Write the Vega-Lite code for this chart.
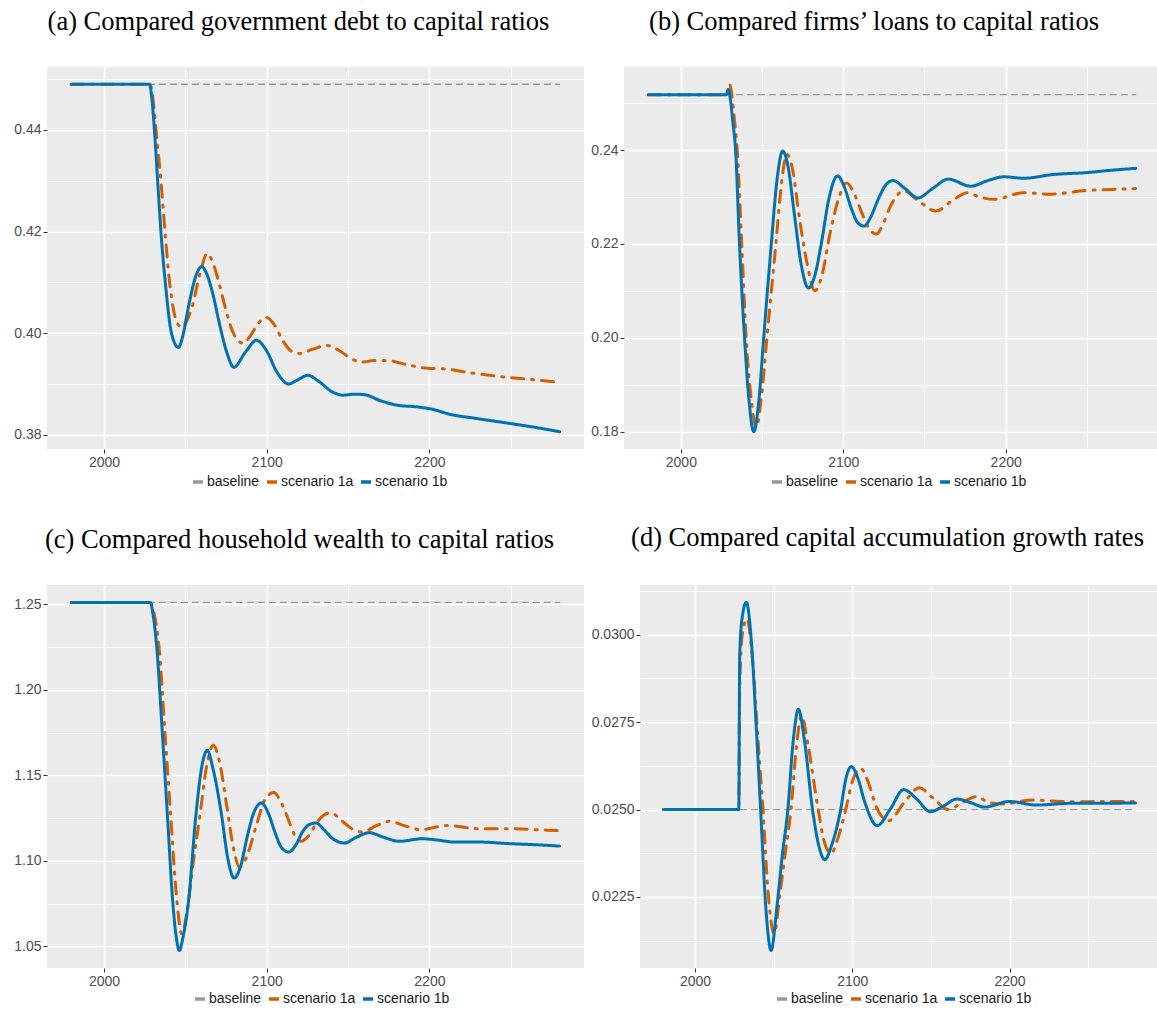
{
  "$schema": "https://vega.github.io/schema/vega-lite/v6.json",
  "background": "white",
  "padding": {"left": 13, "top": 8, "right": 0, "bottom": 0},
  "data": {"values": [
    {"panel":"a","series":"baseline","year":1980,"value":0.449},
    {"panel":"a","series":"baseline","year":2280,"value":0.449},
    {"panel":"a","series":"scenario 1a","year":1980,"value":0.449},
    {"panel":"a","series":"scenario 1a","year":2028,"value":0.449},
    {"panel":"a","series":"scenario 1a","year":2030,"value":0.4465},
    {"panel":"a","series":"scenario 1a","year":2032,"value":0.440},
    {"panel":"a","series":"scenario 1a","year":2035,"value":0.430},
    {"panel":"a","series":"scenario 1a","year":2037.5,"value":0.420},
    {"panel":"a","series":"scenario 1a","year":2040,"value":0.411},
    {"panel":"a","series":"scenario 1a","year":2042.5,"value":0.405},
    {"panel":"a","series":"scenario 1a","year":2045,"value":0.402},
    {"panel":"a","series":"scenario 1a","year":2047.8,"value":0.4012},
    {"panel":"a","series":"scenario 1a","year":2051,"value":0.4025},
    {"panel":"a","series":"scenario 1a","year":2054,"value":0.405},
    {"panel":"a","series":"scenario 1a","year":2059,"value":0.4117},
    {"panel":"a","series":"scenario 1a","year":2063.5,"value":0.4157},
    {"panel":"a","series":"scenario 1a","year":2067,"value":0.4138},
    {"panel":"a","series":"scenario 1a","year":2071,"value":0.4095},
    {"panel":"a","series":"scenario 1a","year":2075,"value":0.4045},
    {"panel":"a","series":"scenario 1a","year":2079.5,"value":0.4000},
    {"panel":"a","series":"scenario 1a","year":2085.6,"value":0.398},
    {"panel":"a","series":"scenario 1a","year":2090,"value":0.3995},
    {"panel":"a","series":"scenario 1a","year":2095,"value":0.402},
    {"panel":"a","series":"scenario 1a","year":2099.9,"value":0.4031},
    {"panel":"a","series":"scenario 1a","year":2105,"value":0.4015},
    {"panel":"a","series":"scenario 1a","year":2110,"value":0.3985},
    {"panel":"a","series":"scenario 1a","year":2115,"value":0.3965},
    {"panel":"a","series":"scenario 1a","year":2120,"value":0.396},
    {"panel":"a","series":"scenario 1a","year":2128,"value":0.3968},
    {"panel":"a","series":"scenario 1a","year":2136.6,"value":0.3976},
    {"panel":"a","series":"scenario 1a","year":2145,"value":0.3965},
    {"panel":"a","series":"scenario 1a","year":2152,"value":0.395},
    {"panel":"a","series":"scenario 1a","year":2158,"value":0.3943},
    {"panel":"a","series":"scenario 1a","year":2166,"value":0.3946},
    {"panel":"a","series":"scenario 1a","year":2174.3,"value":0.3946},
    {"panel":"a","series":"scenario 1a","year":2186,"value":0.3938},
    {"panel":"a","series":"scenario 1a","year":2198.8,"value":0.3931},
    {"panel":"a","series":"scenario 1a","year":2208,"value":0.393},
    {"panel":"a","series":"scenario 1a","year":2227.4,"value":0.3921},
    {"panel":"a","series":"scenario 1a","year":2247.8,"value":0.3913},
    {"panel":"a","series":"scenario 1a","year":2262,"value":0.3909},
    {"panel":"a","series":"scenario 1a","year":2280,"value":0.3903},
    {"panel":"a","series":"scenario 1b","year":1980,"value":0.449},
    {"panel":"a","series":"scenario 1b","year":2028,"value":0.449},
    {"panel":"a","series":"scenario 1b","year":2029.5,"value":0.446},
    {"panel":"a","series":"scenario 1b","year":2031,"value":0.440},
    {"panel":"a","series":"scenario 1b","year":2033,"value":0.430},
    {"panel":"a","series":"scenario 1b","year":2035,"value":0.420},
    {"panel":"a","series":"scenario 1b","year":2038,"value":0.409},
    {"panel":"a","series":"scenario 1b","year":2041.5,"value":0.400},
    {"panel":"a","series":"scenario 1b","year":2045.7,"value":0.3972},
    {"panel":"a","series":"scenario 1b","year":2048.5,"value":0.3995},
    {"panel":"a","series":"scenario 1b","year":2051.8,"value":0.405},
    {"panel":"a","series":"scenario 1b","year":2057,"value":0.4117},
    {"panel":"a","series":"scenario 1b","year":2060,"value":0.4131},
    {"panel":"a","series":"scenario 1b","year":2063.5,"value":0.4114},
    {"panel":"a","series":"scenario 1b","year":2067,"value":0.4076},
    {"panel":"a","series":"scenario 1b","year":2071,"value":0.4018},
    {"panel":"a","series":"scenario 1b","year":2075.5,"value":0.3962},
    {"panel":"a","series":"scenario 1b","year":2079.8,"value":0.3933},
    {"panel":"a","series":"scenario 1b","year":2087,"value":0.3963},
    {"panel":"a","series":"scenario 1b","year":2093.7,"value":0.3986},
    {"panel":"a","series":"scenario 1b","year":2100,"value":0.3965},
    {"panel":"a","series":"scenario 1b","year":2106,"value":0.3925},
    {"panel":"a","series":"scenario 1b","year":2113.5,"value":0.390},
    {"panel":"a","series":"scenario 1b","year":2119,"value":0.3908},
    {"panel":"a","series":"scenario 1b","year":2125.3,"value":0.3917},
    {"panel":"a","series":"scenario 1b","year":2132,"value":0.3905},
    {"panel":"a","series":"scenario 1b","year":2140,"value":0.3885},
    {"panel":"a","series":"scenario 1b","year":2147,"value":0.3878},
    {"panel":"a","series":"scenario 1b","year":2154,"value":0.388},
    {"panel":"a","series":"scenario 1b","year":2160,"value":0.3879},
    {"panel":"a","series":"scenario 1b","year":2170,"value":0.3867},
    {"panel":"a","series":"scenario 1b","year":2180.5,"value":0.3858},
    {"panel":"a","series":"scenario 1b","year":2192,"value":0.3855},
    {"panel":"a","series":"scenario 1b","year":2202,"value":0.385},
    {"panel":"a","series":"scenario 1b","year":2213,"value":0.384},
    {"panel":"a","series":"scenario 1b","year":2227,"value":0.3833},
    {"panel":"a","series":"scenario 1b","year":2250,"value":0.3822},
    {"panel":"a","series":"scenario 1b","year":2266,"value":0.3814},
    {"panel":"a","series":"scenario 1b","year":2280,"value":0.3806},

    {"panel":"b","series":"baseline","year":1980,"value":0.2518},
    {"panel":"b","series":"baseline","year":2280,"value":0.2518},
    {"panel":"b","series":"scenario 1a","year":1980,"value":0.2518},
    {"panel":"b","series":"scenario 1a","year":2028,"value":0.2518},
    {"panel":"b","series":"scenario 1a","year":2030,"value":0.254},
    {"panel":"b","series":"scenario 1a","year":2031.5,"value":0.2515},
    {"panel":"b","series":"scenario 1a","year":2033,"value":0.2465},
    {"panel":"b","series":"scenario 1a","year":2034.7,"value":0.240},
    {"panel":"b","series":"scenario 1a","year":2037.5,"value":0.220},
    {"panel":"b","series":"scenario 1a","year":2040.2,"value":0.200},
    {"panel":"b","series":"scenario 1a","year":2043,"value":0.188},
    {"panel":"b","series":"scenario 1a","year":2046.5,"value":0.1809},
    {"panel":"b","series":"scenario 1a","year":2049.5,"value":0.187},
    {"panel":"b","series":"scenario 1a","year":2053,"value":0.200},
    {"panel":"b","series":"scenario 1a","year":2058.5,"value":0.220},
    {"panel":"b","series":"scenario 1a","year":2062,"value":0.233},
    {"panel":"b","series":"scenario 1a","year":2065.3,"value":0.2391},
    {"panel":"b","series":"scenario 1a","year":2069,"value":0.2355},
    {"panel":"b","series":"scenario 1a","year":2073,"value":0.2255},
    {"panel":"b","series":"scenario 1a","year":2077.5,"value":0.2162},
    {"panel":"b","series":"scenario 1a","year":2082.6,"value":0.210},
    {"panel":"b","series":"scenario 1a","year":2087,"value":0.2135},
    {"panel":"b","series":"scenario 1a","year":2092,"value":0.2225},
    {"panel":"b","series":"scenario 1a","year":2097,"value":0.2295},
    {"panel":"b","series":"scenario 1a","year":2102,"value":0.233},
    {"panel":"b","series":"scenario 1a","year":2107,"value":0.2305},
    {"panel":"b","series":"scenario 1a","year":2111,"value":0.227},
    {"panel":"b","series":"scenario 1a","year":2115.5,"value":0.2235},
    {"panel":"b","series":"scenario 1a","year":2120.4,"value":0.2221},
    {"panel":"b","series":"scenario 1a","year":2124.5,"value":0.2243},
    {"panel":"b","series":"scenario 1a","year":2129,"value":0.2280},
    {"panel":"b","series":"scenario 1a","year":2133,"value":0.2303},
    {"panel":"b","series":"scenario 1a","year":2137.3,"value":0.2313},
    {"panel":"b","series":"scenario 1a","year":2147,"value":0.229},
    {"panel":"b","series":"scenario 1a","year":2157,"value":0.227},
    {"panel":"b","series":"scenario 1a","year":2167,"value":0.2292},
    {"panel":"b","series":"scenario 1a","year":2176.4,"value":0.2309},
    {"panel":"b","series":"scenario 1a","year":2184,"value":0.230},
    {"panel":"b","series":"scenario 1a","year":2192.8,"value":0.2295},
    {"panel":"b","series":"scenario 1a","year":2211,"value":0.2309},
    {"panel":"b","series":"scenario 1a","year":2227.5,"value":0.2306},
    {"panel":"b","series":"scenario 1a","year":2250,"value":0.2314},
    {"panel":"b","series":"scenario 1a","year":2265,"value":0.2316},
    {"panel":"b","series":"scenario 1a","year":2280,"value":0.2318},
    {"panel":"b","series":"scenario 1b","year":1980,"value":0.2518},
    {"panel":"b","series":"scenario 1b","year":2028,"value":0.2518},
    {"panel":"b","series":"scenario 1b","year":2029.2,"value":0.2529},
    {"panel":"b","series":"scenario 1b","year":2030.6,"value":0.2505},
    {"panel":"b","series":"scenario 1b","year":2032,"value":0.246},
    {"panel":"b","series":"scenario 1b","year":2033.7,"value":0.240},
    {"panel":"b","series":"scenario 1b","year":2036.1,"value":0.220},
    {"panel":"b","series":"scenario 1b","year":2039.2,"value":0.200},
    {"panel":"b","series":"scenario 1b","year":2041.5,"value":0.1885},
    {"panel":"b","series":"scenario 1b","year":2044.9,"value":0.180},
    {"panel":"b","series":"scenario 1b","year":2048,"value":0.1865},
    {"panel":"b","series":"scenario 1b","year":2051,"value":0.200},
    {"panel":"b","series":"scenario 1b","year":2055.7,"value":0.220},
    {"panel":"b","series":"scenario 1b","year":2059,"value":0.233},
    {"panel":"b","series":"scenario 1b","year":2062.7,"value":0.2398},
    {"panel":"b","series":"scenario 1b","year":2066,"value":0.2365},
    {"panel":"b","series":"scenario 1b","year":2070,"value":0.2260},
    {"panel":"b","series":"scenario 1b","year":2074,"value":0.2158},
    {"panel":"b","series":"scenario 1b","year":2078.6,"value":0.2106},
    {"panel":"b","series":"scenario 1b","year":2082.5,"value":0.2133},
    {"panel":"b","series":"scenario 1b","year":2086.7,"value":0.2205},
    {"panel":"b","series":"scenario 1b","year":2091,"value":0.2294},
    {"panel":"b","series":"scenario 1b","year":2096.5,"value":0.2345},
    {"panel":"b","series":"scenario 1b","year":2101,"value":0.2318},
    {"panel":"b","series":"scenario 1b","year":2105,"value":0.2275},
    {"panel":"b","series":"scenario 1b","year":2109,"value":0.2245},
    {"panel":"b","series":"scenario 1b","year":2112.9,"value":0.2238},
    {"panel":"b","series":"scenario 1b","year":2117,"value":0.2258},
    {"panel":"b","series":"scenario 1b","year":2121.5,"value":0.2295},
    {"panel":"b","series":"scenario 1b","year":2126,"value":0.2325},
    {"panel":"b","series":"scenario 1b","year":2130.6,"value":0.2335},
    {"panel":"b","series":"scenario 1b","year":2138,"value":0.2318},
    {"panel":"b","series":"scenario 1b","year":2145.9,"value":0.2298},
    {"panel":"b","series":"scenario 1b","year":2155,"value":0.2318},
    {"panel":"b","series":"scenario 1b","year":2164.6,"value":0.2338},
    {"panel":"b","series":"scenario 1b","year":2178.5,"value":0.2323},
    {"panel":"b","series":"scenario 1b","year":2189,"value":0.2335},
    {"panel":"b","series":"scenario 1b","year":2198.9,"value":0.2343},
    {"panel":"b","series":"scenario 1b","year":2211,"value":0.234},
    {"panel":"b","series":"scenario 1b","year":2229.5,"value":0.2348},
    {"panel":"b","series":"scenario 1b","year":2249.9,"value":0.2352},
    {"panel":"b","series":"scenario 1b","year":2265,"value":0.2357},
    {"panel":"b","series":"scenario 1b","year":2280,"value":0.2361},

    {"panel":"c","series":"baseline","year":1980,"value":1.2512},
    {"panel":"c","series":"baseline","year":2280,"value":1.2512},
    {"panel":"c","series":"scenario 1a","year":1980,"value":1.2512},
    {"panel":"c","series":"scenario 1a","year":2028.4,"value":1.2512},
    {"panel":"c","series":"scenario 1a","year":2031,"value":1.244},
    {"panel":"c","series":"scenario 1a","year":2033.9,"value":1.2244},
    {"panel":"c","series":"scenario 1a","year":2037.5,"value":1.175},
    {"panel":"c","series":"scenario 1a","year":2041,"value":1.1267},
    {"panel":"c","series":"scenario 1a","year":2044.5,"value":1.080},
    {"panel":"c","series":"scenario 1a","year":2047.8,"value":1.0574},
    {"panel":"c","series":"scenario 1a","year":2051,"value":1.070},
    {"panel":"c","series":"scenario 1a","year":2055,"value":1.100},
    {"panel":"c","series":"scenario 1a","year":2059,"value":1.1267},
    {"panel":"c","series":"scenario 1a","year":2063,"value":1.155},
    {"panel":"c","series":"scenario 1a","year":2067.2,"value":1.1677},
    {"panel":"c","series":"scenario 1a","year":2071,"value":1.158},
    {"panel":"c","series":"scenario 1a","year":2075.5,"value":1.132},
    {"panel":"c","series":"scenario 1a","year":2079.5,"value":1.108},
    {"panel":"c","series":"scenario 1a","year":2083.4,"value":1.0964},
    {"panel":"c","series":"scenario 1a","year":2087.5,"value":1.102},
    {"panel":"c","series":"scenario 1a","year":2094,"value":1.122},
    {"panel":"c","series":"scenario 1a","year":2099,"value":1.136},
    {"panel":"c","series":"scenario 1a","year":2104.3,"value":1.140},
    {"panel":"c","series":"scenario 1a","year":2109,"value":1.134},
    {"panel":"c","series":"scenario 1a","year":2113,"value":1.125},
    {"panel":"c","series":"scenario 1a","year":2117,"value":1.1155},
    {"panel":"c","series":"scenario 1a","year":2121.2,"value":1.1115},
    {"panel":"c","series":"scenario 1a","year":2126,"value":1.115},
    {"panel":"c","series":"scenario 1a","year":2130.5,"value":1.122},
    {"panel":"c","series":"scenario 1a","year":2135,"value":1.1268},
    {"panel":"c","series":"scenario 1a","year":2139.6,"value":1.1282},
    {"panel":"c","series":"scenario 1a","year":2145,"value":1.1245},
    {"panel":"c","series":"scenario 1a","year":2152,"value":1.119},
    {"panel":"c","series":"scenario 1a","year":2159,"value":1.1169},
    {"panel":"c","series":"scenario 1a","year":2167,"value":1.1205},
    {"panel":"c","series":"scenario 1a","year":2175.3,"value":1.1232},
    {"panel":"c","series":"scenario 1a","year":2185,"value":1.1205},
    {"panel":"c","series":"scenario 1a","year":2194.7,"value":1.1183},
    {"panel":"c","series":"scenario 1a","year":2211,"value":1.1208},
    {"panel":"c","series":"scenario 1a","year":2229.4,"value":1.1189},
    {"panel":"c","series":"scenario 1a","year":2249.8,"value":1.1189},
    {"panel":"c","series":"scenario 1a","year":2265,"value":1.1183},
    {"panel":"c","series":"scenario 1a","year":2280,"value":1.1177},
    {"panel":"c","series":"scenario 1b","year":1980,"value":1.2512},
    {"panel":"c","series":"scenario 1b","year":2028.4,"value":1.2512},
    {"panel":"c","series":"scenario 1b","year":2030.5,"value":1.242},
    {"panel":"c","series":"scenario 1b","year":2032.5,"value":1.2244},
    {"panel":"c","series":"scenario 1b","year":2035.9,"value":1.1745},
    {"panel":"c","series":"scenario 1b","year":2039,"value":1.1267},
    {"panel":"c","series":"scenario 1b","year":2042.3,"value":1.0759},
    {"panel":"c","series":"scenario 1b","year":2044.5,"value":1.055},
    {"panel":"c","series":"scenario 1b","year":2046.3,"value":1.0476},
    {"panel":"c","series":"scenario 1b","year":2048.5,"value":1.055},
    {"panel":"c","series":"scenario 1b","year":2051.9,"value":1.0759},
    {"panel":"c","series":"scenario 1b","year":2056.5,"value":1.1267},
    {"panel":"c","series":"scenario 1b","year":2060,"value":1.1545},
    {"panel":"c","series":"scenario 1b","year":2063.5,"value":1.1647},
    {"panel":"c","series":"scenario 1b","year":2067,"value":1.154},
    {"panel":"c","series":"scenario 1b","year":2072.3,"value":1.1267},
    {"panel":"c","series":"scenario 1b","year":2076,"value":1.102},
    {"panel":"c","series":"scenario 1b","year":2080,"value":1.090},
    {"panel":"c","series":"scenario 1b","year":2084,"value":1.097},
    {"panel":"c","series":"scenario 1b","year":2088,"value":1.114},
    {"panel":"c","series":"scenario 1b","year":2092,"value":1.128},
    {"panel":"c","series":"scenario 1b","year":2096.8,"value":1.1339},
    {"panel":"c","series":"scenario 1b","year":2101,"value":1.128},
    {"panel":"c","series":"scenario 1b","year":2105,"value":1.117},
    {"panel":"c","series":"scenario 1b","year":2109,"value":1.108},
    {"panel":"c","series":"scenario 1b","year":2113.5,"value":1.1052},
    {"panel":"c","series":"scenario 1b","year":2118,"value":1.1095},
    {"panel":"c","series":"scenario 1b","year":2122,"value":1.117},
    {"panel":"c","series":"scenario 1b","year":2126,"value":1.1212},
    {"panel":"c","series":"scenario 1b","year":2130.4,"value":1.1222},
    {"panel":"c","series":"scenario 1b","year":2135,"value":1.1185},
    {"panel":"c","series":"scenario 1b","year":2140,"value":1.1135},
    {"panel":"c","series":"scenario 1b","year":2147.8,"value":1.1105},
    {"panel":"c","series":"scenario 1b","year":2155,"value":1.1138},
    {"panel":"c","series":"scenario 1b","year":2163,"value":1.1165},
    {"panel":"c","series":"scenario 1b","year":2172,"value":1.1138},
    {"panel":"c","series":"scenario 1b","year":2181.5,"value":1.1115},
    {"panel":"c","series":"scenario 1b","year":2195.8,"value":1.113},
    {"panel":"c","series":"scenario 1b","year":2205,"value":1.1122},
    {"panel":"c","series":"scenario 1b","year":2215,"value":1.1111},
    {"panel":"c","series":"scenario 1b","year":2229.4,"value":1.1111},
    {"panel":"c","series":"scenario 1b","year":2249.8,"value":1.1101},
    {"panel":"c","series":"scenario 1b","year":2265,"value":1.1095},
    {"panel":"c","series":"scenario 1b","year":2280,"value":1.1087},

    {"panel":"d","series":"baseline","year":1980,"value":0.025},
    {"panel":"d","series":"baseline","year":2280,"value":0.025},
    {"panel":"d","series":"scenario 1a","year":1980,"value":0.025},
    {"panel":"d","series":"scenario 1a","year":2027.8,"value":0.025},
    {"panel":"d","series":"scenario 1a","year":2028.3,"value":0.0283},
    {"panel":"d","series":"scenario 1a","year":2030,"value":0.0300},
    {"panel":"d","series":"scenario 1a","year":2033,"value":0.03045},
    {"panel":"d","series":"scenario 1a","year":2036.5,"value":0.0293},
    {"panel":"d","series":"scenario 1a","year":2040,"value":0.0270},
    {"panel":"d","series":"scenario 1a","year":2043.2,"value":0.025},
    {"panel":"d","series":"scenario 1a","year":2046.5,"value":0.0226},
    {"panel":"d","series":"scenario 1a","year":2050.3,"value":0.02145},
    {"panel":"d","series":"scenario 1a","year":2054,"value":0.0226},
    {"panel":"d","series":"scenario 1a","year":2057.5,"value":0.0238},
    {"panel":"d","series":"scenario 1a","year":2061,"value":0.025},
    {"panel":"d","series":"scenario 1a","year":2064.5,"value":0.0268},
    {"panel":"d","series":"scenario 1a","year":2067.6,"value":0.02769},
    {"panel":"d","series":"scenario 1a","year":2072,"value":0.0268},
    {"panel":"d","series":"scenario 1a","year":2078.3,"value":0.025},
    {"panel":"d","series":"scenario 1a","year":2082,"value":0.0241},
    {"panel":"d","series":"scenario 1a","year":2086.5,"value":0.02375},
    {"panel":"d","series":"scenario 1a","year":2091,"value":0.0242},
    {"panel":"d","series":"scenario 1a","year":2095.8,"value":0.025},
    {"panel":"d","series":"scenario 1a","year":2100,"value":0.0258},
    {"panel":"d","series":"scenario 1a","year":2105.2,"value":0.02618},
    {"panel":"d","series":"scenario 1a","year":2110,"value":0.0258},
    {"panel":"d","series":"scenario 1a","year":2115,"value":0.0251},
    {"panel":"d","series":"scenario 1a","year":2123,"value":0.02468},
    {"panel":"d","series":"scenario 1a","year":2133,"value":0.0252},
    {"panel":"d","series":"scenario 1a","year":2142.5,"value":0.02562},
    {"panel":"d","series":"scenario 1a","year":2152,"value":0.0253},
    {"panel":"d","series":"scenario 1a","year":2161,"value":0.0250},
    {"panel":"d","series":"scenario 1a","year":2170,"value":0.0252},
    {"panel":"d","series":"scenario 1a","year":2179,"value":0.02537},
    {"panel":"d","series":"scenario 1a","year":2187,"value":0.0252},
    {"panel":"d","series":"scenario 1a","year":2195.7,"value":0.02516},
    {"panel":"d","series":"scenario 1a","year":2214.6,"value":0.02527},
    {"panel":"d","series":"scenario 1a","year":2240,"value":0.02522},
    {"panel":"d","series":"scenario 1a","year":2260,"value":0.02523},
    {"panel":"d","series":"scenario 1a","year":2280,"value":0.02523},
    {"panel":"d","series":"scenario 1b","year":1980,"value":0.025},
    {"panel":"d","series":"scenario 1b","year":2027.8,"value":0.025},
    {"panel":"d","series":"scenario 1b","year":2028.4,"value":0.0294},
    {"panel":"d","series":"scenario 1b","year":2030,"value":0.0305},
    {"panel":"d","series":"scenario 1b","year":2032.6,"value":0.03092},
    {"panel":"d","series":"scenario 1b","year":2036,"value":0.0297},
    {"panel":"d","series":"scenario 1b","year":2039,"value":0.0273},
    {"panel":"d","series":"scenario 1b","year":2041.7,"value":0.025},
    {"panel":"d","series":"scenario 1b","year":2045,"value":0.0222},
    {"panel":"d","series":"scenario 1b","year":2048.4,"value":0.02097},
    {"panel":"d","series":"scenario 1b","year":2052,"value":0.0222},
    {"panel":"d","series":"scenario 1b","year":2055.5,"value":0.0237},
    {"panel":"d","series":"scenario 1b","year":2059,"value":0.025},
    {"panel":"d","series":"scenario 1b","year":2062.5,"value":0.0270},
    {"panel":"d","series":"scenario 1b","year":2065.7,"value":0.02787},
    {"panel":"d","series":"scenario 1b","year":2069.5,"value":0.0270},
    {"panel":"d","series":"scenario 1b","year":2074.7,"value":0.025},
    {"panel":"d","series":"scenario 1b","year":2078.5,"value":0.0240},
    {"panel":"d","series":"scenario 1b","year":2082.5,"value":0.02357},
    {"panel":"d","series":"scenario 1b","year":2087,"value":0.0240},
    {"panel":"d","series":"scenario 1b","year":2092.6,"value":0.025},
    {"panel":"d","series":"scenario 1b","year":2096,"value":0.0259},
    {"panel":"d","series":"scenario 1b","year":2099.4,"value":0.02623},
    {"panel":"d","series":"scenario 1b","year":2103.5,"value":0.0259},
    {"panel":"d","series":"scenario 1b","year":2108,"value":0.0252},
    {"panel":"d","series":"scenario 1b","year":2115.8,"value":0.02454},
    {"panel":"d","series":"scenario 1b","year":2124,"value":0.0250},
    {"panel":"d","series":"scenario 1b","year":2132.6,"value":0.02557},
    {"panel":"d","series":"scenario 1b","year":2141,"value":0.0253},
    {"panel":"d","series":"scenario 1b","year":2149.4,"value":0.02494},
    {"panel":"d","series":"scenario 1b","year":2158,"value":0.0251},
    {"panel":"d","series":"scenario 1b","year":2166.3,"value":0.0253},
    {"panel":"d","series":"scenario 1b","year":2175,"value":0.0252},
    {"panel":"d","series":"scenario 1b","year":2184,"value":0.02507},
    {"panel":"d","series":"scenario 1b","year":2200,"value":0.02523},
    {"panel":"d","series":"scenario 1b","year":2216.8,"value":0.02513},
    {"panel":"d","series":"scenario 1b","year":2240,"value":0.02518},
    {"panel":"d","series":"scenario 1b","year":2260,"value":0.02518},
    {"panel":"d","series":"scenario 1b","year":2280,"value":0.02519}
  ]},
  "resolve": {"scale": {"color": "independent"}, "legend": {"color": "independent"}},
  "spacing": 36,
  "vconcat": [
    {
      "spacing": 6,
      "resolve": {"scale": {"color": "independent"}, "legend": {"color": "independent"}},
      "hconcat": [
        {
          "width": 537, "height": 382,
          "title": {"text": "(a) Compared government debt to capital ratios", "dx": -17},
          "transform": [{"filter": "datum.panel === 'a'"}],
          "mark": {"type": "line", "interpolate": "monotone", "strokeCap": "round", "strokeJoin": "round"},
          "encoding": {
            "x": {"field": "year", "type": "quantitative",
                  "scale": {"domain": [1965, 2295], "nice": false, "zero": false},
                  "axis": {"values": [2000, 2050, 2100, 2150, 2200, 2250], "format": "d",
                           "labelExpr": "datum.value % 100 === 0 ? datum.label : ''",
                           "gridWidth": {"condition": {"test": "datum.value % 100 === 0", "value": 1.6}, "value": 0.8},
                           "tickOpacity": {"condition": {"test": "datum.value % 100 === 0", "value": 1}, "value": 0}}},
            "y": {"field": "value", "type": "quantitative",
                  "scale": {"domain": [0.3772, 0.4524], "nice": false, "zero": false},
                  "axis": {"values": [0.38, 0.39, 0.40, 0.41, 0.42, 0.43, 0.44, 0.45], "format": ".2f",
                           "labelExpr": "round(datum.value * 1000) % 20 === 0 ? datum.label : ''",
                           "gridWidth": {"condition": {"test": "round(datum.value * 1000) % 20 === 0", "value": 1.6}, "value": 0.8},
                           "tickOpacity": {"condition": {"test": "round(datum.value * 1000) % 20 === 0", "value": 1}, "value": 0}}},
            "color": {"field": "series", "type": "nominal",
                      "scale": {"domain": ["baseline", "scenario 1a", "scenario 1b"], "range": ["#999999", "#D55E00", "#0072B2"]},
                      "legend": {"orient": "none", "legendX": 144, "legendY": 408}},
            "strokeDash": {"condition": [{"test": "datum.series === 'baseline'", "value": [6, 5]}, {"test": "datum.series === 'scenario 1a'", "value": [12, 8, 2, 8]}], "value": [1, 0]},
            "strokeWidth": {"condition": {"test": "datum.series === 'baseline'", "value": 1.3}, "value": 3}
          }
        },
        {
          "width": 536, "height": 382,
          "title": {"text": "(b) Compared firms’ loans to capital ratios", "dx": -18},
          "transform": [{"filter": "datum.panel === 'b'"}],
          "mark": {"type": "line", "interpolate": "monotone", "strokeCap": "round", "strokeJoin": "round"},
          "encoding": {
            "x": {"field": "year", "type": "quantitative",
                  "scale": {"domain": [1965, 2295], "nice": false, "zero": false},
                  "axis": {"values": [2000, 2050, 2100, 2150, 2200, 2250], "format": "d",
                           "labelExpr": "datum.value % 100 === 0 ? datum.label : ''",
                           "gridWidth": {"condition": {"test": "datum.value % 100 === 0", "value": 1.6}, "value": 0.8},
                           "tickOpacity": {"condition": {"test": "datum.value % 100 === 0", "value": 1}, "value": 0}}},
            "y": {"field": "value", "type": "quantitative",
                  "scale": {"domain": [0.1763, 0.2577], "nice": false, "zero": false},
                  "axis": {"values": [0.18, 0.19, 0.20, 0.21, 0.22, 0.23, 0.24, 0.25], "format": ".2f",
                           "labelExpr": "round(datum.value * 1000) % 20 === 0 ? datum.label : ''",
                           "gridWidth": {"condition": {"test": "round(datum.value * 1000) % 20 === 0", "value": 1.6}, "value": 0.8},
                           "tickOpacity": {"condition": {"test": "round(datum.value * 1000) % 20 === 0", "value": 1}, "value": 0}}},
            "color": {"field": "series", "type": "nominal",
                      "scale": {"domain": ["baseline", "scenario 1a", "scenario 1b"], "range": ["#999999", "#D55E00", "#0072B2"]},
                      "legend": {"orient": "none", "legendX": 146, "legendY": 408}},
            "strokeDash": {"condition": [{"test": "datum.series === 'baseline'", "value": [6, 5]}, {"test": "datum.series === 'scenario 1a'", "value": [12, 8, 2, 8]}], "value": [1, 0]},
            "strokeWidth": {"condition": {"test": "datum.series === 'baseline'", "value": 1.3}, "value": 3}
          }
        }
      ]
    },
    {
      "spacing": 7,
      "resolve": {"scale": {"color": "independent"}, "legend": {"color": "independent"}},
      "hconcat": [
        {
          "width": 537, "height": 383,
          "title": {"text": "(c) Compared household wealth to capital ratios", "dx": -16},
          "transform": [{"filter": "datum.panel === 'c'"}],
          "mark": {"type": "line", "interpolate": "monotone", "strokeCap": "round", "strokeJoin": "round"},
          "encoding": {
            "x": {"field": "year", "type": "quantitative",
                  "scale": {"domain": [1965, 2295], "nice": false, "zero": false},
                  "axis": {"values": [2000, 2050, 2100, 2150, 2200, 2250], "format": "d",
                           "labelExpr": "datum.value % 100 === 0 ? datum.label : ''",
                           "gridWidth": {"condition": {"test": "datum.value % 100 === 0", "value": 1.6}, "value": 0.8},
                           "tickOpacity": {"condition": {"test": "datum.value % 100 === 0", "value": 1}, "value": 0}}},
            "y": {"field": "value", "type": "quantitative",
                  "scale": {"domain": [1.0374, 1.2614], "nice": false, "zero": false},
                  "axis": {"values": [1.05, 1.075, 1.10, 1.125, 1.15, 1.175, 1.20, 1.225, 1.25], "format": ".2f",
                           "labelExpr": "round(datum.value * 1000) % 50 === 0 ? datum.label : ''",
                           "gridWidth": {"condition": {"test": "round(datum.value * 1000) % 50 === 0", "value": 1.6}, "value": 0.8},
                           "tickOpacity": {"condition": {"test": "round(datum.value * 1000) % 50 === 0", "value": 1}, "value": 0}}},
            "color": {"field": "series", "type": "nominal",
                      "scale": {"domain": ["baseline", "scenario 1a", "scenario 1b"], "range": ["#999999", "#D55E00", "#0072B2"]},
                      "legend": {"orient": "none", "legendX": 146, "legendY": 407}},
            "strokeDash": {"condition": [{"test": "datum.series === 'baseline'", "value": [6, 5]}, {"test": "datum.series === 'scenario 1a'", "value": [12, 8, 2, 8]}], "value": [1, 0]},
            "strokeWidth": {"condition": {"test": "datum.series === 'baseline'", "value": 1.3}, "value": 3}
          }
        },
        {
          "width": 519, "height": 383,
          "title": {"text": "(d) Compared capital accumulation growth rates", "dx": -12},
          "transform": [{"filter": "datum.panel === 'd'"}],
          "mark": {"type": "line", "interpolate": "monotone", "strokeCap": "round", "strokeJoin": "round"},
          "encoding": {
            "x": {"field": "year", "type": "quantitative",
                  "scale": {"domain": [1965, 2295], "nice": false, "zero": false},
                  "axis": {"values": [2000, 2050, 2100, 2150, 2200, 2250], "format": "d",
                           "labelExpr": "datum.value % 100 === 0 ? datum.label : ''",
                           "gridWidth": {"condition": {"test": "datum.value % 100 === 0", "value": 1.6}, "value": 0.8},
                           "tickOpacity": {"condition": {"test": "datum.value % 100 === 0", "value": 1}, "value": 0}}},
            "y": {"field": "value", "type": "quantitative",
                  "scale": {"domain": [0.02047, 0.03142], "nice": false, "zero": false},
                  "axis": {"values": [0.02125, 0.0225, 0.02375, 0.025, 0.02625, 0.0275, 0.02875, 0.03, 0.03125], "format": ".4f",
                           "labelExpr": "round(datum.value * 100000) % 250 === 0 ? datum.label : ''",
                           "gridWidth": {"condition": {"test": "round(datum.value * 100000) % 250 === 0", "value": 1.6}, "value": 0.8},
                           "tickOpacity": {"condition": {"test": "round(datum.value * 100000) % 250 === 0", "value": 1}, "value": 0}}},
            "color": {"field": "series", "type": "nominal",
                      "scale": {"domain": ["baseline", "scenario 1a", "scenario 1b"], "range": ["#999999", "#D55E00", "#0072B2"]},
                      "legend": {"orient": "none", "legendX": 135, "legendY": 407}},
            "strokeDash": {"condition": [{"test": "datum.series === 'baseline'", "value": [6, 5]}, {"test": "datum.series === 'scenario 1a'", "value": [12, 8, 2, 8]}], "value": [1, 0]},
            "strokeWidth": {"condition": {"test": "datum.series === 'baseline'", "value": 1.3}, "value": 3}
          }
        }
      ]
    }
  ],
  "config": {
    "view": {"fill": "#EBEBEB", "stroke": null},
    "axis": {"domain": false, "title": null, "gridColor": "#FFFFFF", "tickColor": "#333333", "tickSize": 4, "tickWidth": 1,
             "labelFont": "Liberation Sans", "labelFontSize": 14, "labelColor": "#4D4D4D", "labelPadding": 2, "labelFlush": false, "labelOverlap": false},
    "title": {"font": "Liberation Serif", "fontSize": 26.5, "fontWeight": "normal", "color": "#000000", "anchor": "middle", "offset": 32},
    "legend": {"direction": "horizontal", "title": null,
               "labelFont": "Liberation Sans", "labelFontSize": 14, "labelColor": "#1A1A1A",
               "symbolType": "stroke", "symbolStrokeWidth": 3.5, "symbolSize": 100,
               "labelOffset": 2, "columnPadding": 0}
  }
}
